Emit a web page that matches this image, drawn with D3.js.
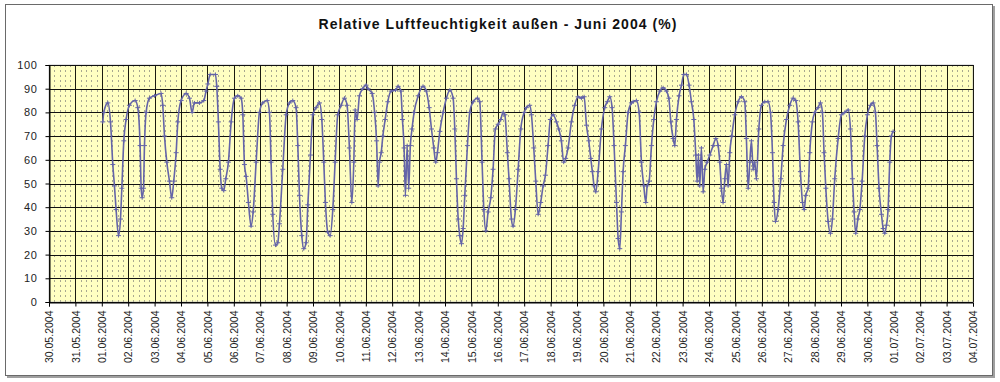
<!DOCTYPE html>
<html>
<head>
<meta charset="utf-8">
<script src="https://cdn.jsdelivr.net/npm/d3@7"></script>
<style>
  html, body { margin: 0; padding: 0; background: #fff; }
  svg { display: block; }
  text { font-family: "Liberation Sans", Arial, sans-serif; }
</style>
</head>
<body>
<svg id="chart" width="1000" height="382"></svg>
<script>
// ---- Data ----
const titleText = "Relative Luftfeuchtigkeit außen - Juni 2004 (%)";
const axisStart = "30.05.2004";
const axisEnd = "04.07.2004";
const seriesStart = "01.06.2004";
const yTicks = [0, 10, 20, 30, 40, 50, 60, 70, 80, 90, 100];
// hours since 01.06.2004 00:00
const hours = [
  0.9, 1.8, 5.5, 7.9, 10, 11.5, 13, 15.2, 17, 18.2, 20, 22.1,
  25.1, 30.3, 32.7, 34.8, 35.8, 36.7, 37.9, 38.8, 40.3, 43.3, 47.9,
  53.9, 55.4, 57, 59.1, 61.5, 63.6, 65.4, 67.6, 69.1, 72.1, 76.7,
  79.7, 82.1, 84.2, 88.8, 92.7, 94.8, 96.4, 98.5, 103.3, 104.5, 106,
  107.6, 109.1, 110.9, 112.7, 115.1, 117.6, 120.6, 123.6, 126.7, 128.2,
  129.7, 131.2, 133.3, 135.7, 137.6, 140.3, 143.3, 146.3, 150.3, 152.4,
  153.9, 155.4, 157.9, 160, 161.5, 164.5, 167.6, 170.6, 173.6, 176.6,
  178.2, 179.7, 181.8, 183.6, 185.7, 187.3, 189.7, 191.8, 194.8, 197.9,
  200, 201.8, 203.3, 205.4, 207.6, 210, 212.1, 214.5, 217.6, 220.6,
  223, 225.1, 227.3, 229.1, 230.3, 232.1, 234.2, 237.2, 240.3,
  242, 245.8, 248, 249.8, 251.2, 252.4, 254, 255.5, 257.6, 260, 263,
  267, 269.4, 271.8, 273.3, 274.8, 276, 277.6, 279, 280.5, 282, 283.9,
  287.6, 292, 295, 297.6, 299.7, 301.8, 303.6, 305.1, 307.3, 310.3,
  313.3, 316.4, 319.4, 320.9, 322.4, 324, 325.4, 327, 328.5, 330, 332.4,
  334.5, 337.6, 341.5, 343.6, 345.7, 347.3, 349.1, 351.2, 353.6, 355.7,
  357.8, 360.3, 362.7, 364.8, 366.4, 368.7, 370.2, 372.4, 373.9, 376,
  378.5, 380.9, 384, 386, 389, 390.6, 392.7, 394.5, 396.7, 399, 401.2,
  403.3, 405.7, 407.8, 410.3, 413.3, 415.4, 417.8, 419.9, 421.7, 423.9,
  426.9, 429.9, 432.9, 436, 438.5, 440.6, 442.7, 444.5, 446, 447.5,
  449.1, 451.2, 454.2, 457.2, 459.6, 461.8, 463.9, 465.7, 467.9, 469.4,
  470.9, 472.4, 473.9, 476, 478.5, 481.5,
  483, 486, 488.5, 490.6, 492.7, 494.5, 495.8, 497.6, 499.7, 501.8,
  504.2, 507.3, 510.3, 513.3, 515.5, 517.3, 519.4, 520.9, 522.4, 524.8,
  527, 529.1, 531.5, 533.9, 536, 538.2, 540, 541.2, 542.4, 543.6, 545.1,
  546.7, 548.2, 550.3, 552.7, 555.8, 558.2, 560.3, 561.8, 563.3, 564.8,
  566.4, 567.9, 569.4, 570.9, 572.7, 575.4, 578.5, 581.5, 584.5, 586,
  587.6, 589.1, 590.6, 592.1, 593.6, 595.1, 597.3, 599.7, 602.7, 605.7,
  607.9, 609.7, 611.2, 612.4, 614.8, 617.3, 619.4, 622.4, 625.4, 628.5,
  630.9, 633, 635.1, 637, 638.5, 640, 642.1, 643.6, 646, 648.2, 651.2,
  653.3, 655.1, 656.6, 658.2, 660.3, 662.4, 664.2, 666.3, 669.4, 672.4,
  675.4, 678.5, 680.6, 682.4, 683.9, 685.4, 687.3, 689.1, 691.2, 693.6,
  696, 698.8, 701.2, 703.3, 704.8, 706.6, 708.8, 710.3, 711.8, 713.3,
  714.8, 716.3, 717.8, 719.4
];
const humidity = [
  76, 80, 84, 76, 58, 49, 39, 28, 35, 48, 68, 77,
  83, 85, 82, 66, 48, 44, 48, 66, 80, 86, 87,
  88, 83, 70, 59, 51, 44, 51, 63, 76, 85, 88,
  86, 80, 84, 84, 85, 89, 92, 96, 96, 91, 76,
  56, 48, 47, 52, 59, 76, 86, 87, 86, 79,
  58, 53, 42, 32, 38, 59, 80, 84, 85, 80,
  59, 37, 24, 25, 33, 56, 79, 84, 85, 82,
  66, 45, 28, 22.5, 25, 41, 62, 79, 82, 84,
  77, 59, 42, 29.5, 28, 39, 59, 79, 83, 86,
  83, 65, 42, 59, 81, 77, 87, 90, 91.5,
  90, 88, 80, 68, 49, 59, 63, 70, 77, 84.5, 89,
  89.4, 91, 89, 77, 65, 45, 66, 48, 66, 73, 80,
  87, 91, 89, 82, 73, 65, 59, 63, 72, 80,
  86, 89.4, 86, 73, 52, 35, 28, 24.6, 31, 45, 66,
  80, 84.5, 86, 84.5, 59, 39, 30, 38, 44, 56,
  73, 75, 77, 80, 79, 63, 52, 35, 32, 39,
  56, 73, 80, 82, 83, 79, 65, 51, 37, 42, 49,
  53.5, 66, 77, 79, 76, 73, 68, 59, 60.6, 65,
  76, 83, 86.6, 86, 86.6, 74.6, 68, 60.6, 55, 49,
  46.5, 55, 73, 82, 84.5, 86.6, 82, 66, 42, 26.8,
  22.5, 38, 55, 66, 80, 84,
  84.5, 85, 80, 59, 49, 42, 49, 51, 66, 77,
  84.5, 89, 90.4, 89, 86, 76, 69, 66, 77, 87,
  91.5, 96, 96, 91.5, 84.5, 77, 62, 51, 62, 49, 65,
  46.5, 56, 59, 62, 66, 69, 66, 59, 48, 42,
  52, 58, 49, 63, 70, 79, 84.5, 86.6, 84.5, 69,
  48, 59, 68, 56, 59, 52, 73, 83, 84.5, 84.5,
  80, 63, 42, 34, 39, 52, 66, 77, 83, 86,
  85, 76, 55, 42, 39, 45, 48, 63, 76, 80, 82,
  84, 80, 63, 48, 34, 29, 35, 52, 69, 79,
  80, 81, 73, 52, 38, 29, 35, 39, 51, 70,
  79, 83, 84, 80, 66, 48, 37, 31, 29, 32.4,
  39, 59, 70, 72
];

// ---- Chart ----
const svg = d3.select("#chart");
const plot = { left: 49, right: 973, top: 65, bottom: 302 };
const parse = d3.timeParse("%d.%m.%Y");
const fmt = d3.timeFormat("%d.%m.%Y");
const t0 = parse(axisStart), t1 = parse(axisEnd), s0 = parse(seriesStart);

const x = d3.scaleTime().domain([t0, t1]).range([plot.left, plot.right]);
const y = d3.scaleLinear().domain([0, 100]).range([plot.bottom, plot.top]);

const data = hours.map((h, i) => ({ t: new Date(s0.getTime() + h * 3600e3), v: humidity[i] }));

// outer frame with shadow
svg.append("rect").attr("x", 7).attr("y", 6).attr("width", 988).attr("height", 372).attr("fill", "#a0a0a0");
svg.append("rect").attr("x", 5.5).attr("y", 4.5).attr("width", 987).attr("height", 371)
  .attr("fill", "#fff").attr("stroke", "#6a6a6a").attr("stroke-width", 1);

// title
svg.append("text").attr("x", 498).attr("y", 29).attr("text-anchor", "middle")
  .attr("font-size", 14).attr("font-weight", "bold").attr("fill", "#111")
  .attr("letter-spacing", 1.05).text(titleText);

// plot background
svg.append("rect").attr("x", plot.left).attr("y", plot.top)
  .attr("width", plot.right - plot.left).attr("height", plot.bottom - plot.top)
  .attr("fill", "#ffffc2").attr("stroke", "#c8c8c8").attr("stroke-width", 1);

// minor dotted vertical grid lines (0.2 day)
const days = d3.timeDay.range(t0, d3.timeDay.offset(t1, 1));
const minor = [];
days.slice(0, -1).forEach(d => {
  for (let k = 1; k < 5; k++) minor.push(new Date(d.getTime() + k * 0.2 * 864e5));
});
svg.append("g").selectAll("line").data(minor).join("line")
  .attr("x1", d => Math.round(x(d)) + 0.5).attr("x2", d => Math.round(x(d)) + 0.5)
  .attr("y1", plot.top).attr("y2", plot.bottom)
  .attr("stroke", "#a8a890").attr("stroke-width", 1).attr("stroke-dasharray", "2,3");

// major grid
svg.append("g").selectAll("line").data(days).join("line")
  .attr("x1", d => Math.round(x(d)) + 0.5).attr("x2", d => Math.round(x(d)) + 0.5)
  .attr("y1", plot.top).attr("y2", plot.bottom)
  .attr("stroke", "#1a1a10").attr("stroke-width", 1);
svg.append("g").selectAll("line").data(yTicks).join("line")
  .attr("x1", plot.left).attr("x2", plot.right)
  .attr("y1", d => Math.round(y(d)) + 0.5).attr("y2", d => Math.round(y(d)) + 0.5)
  .attr("stroke", "#111").attr("stroke-width", 1);

// series
const lineColor = "#6464a8";
svg.append("path").datum(data)
  .attr("fill", "none").attr("stroke", lineColor).attr("stroke-width", 1.6)
  .attr("stroke-linejoin", "round")
  .attr("d", d3.line().curve(d3.curveMonotoneX).x(d => x(d.t)).y(d => y(d.v)));
svg.append("g").selectAll("path").data(data).join("path")
  .attr("transform", d => `translate(${x(d.t)},${y(d.v)})`)
  .attr("d", "M-2.5,0H2.5M0,-2V2")
  .attr("stroke", lineColor).attr("stroke-width", 1);

// axes
const yAxis = d3.axisLeft(y).tickValues(yTicks).tickSize(4).tickPadding(8);
const gy = svg.append("g").attr("transform", `translate(${plot.left + 0.5},0)`).call(yAxis);
gy.select(".domain").attr("stroke", "#000");
gy.selectAll(".tick line").attr("stroke", "#000");
gy.selectAll("text").attr("font-size", 11).attr("fill", "#222")
  .attr("letter-spacing", 0.6).attr("font-family", "Liberation Sans, Arial, sans-serif");

const xAxis = d3.axisBottom(x).tickValues(days).tickFormat(fmt).tickSize(4).tickPadding(6);
const gx = svg.append("g").attr("transform", `translate(0,${plot.bottom + 0.5})`).call(xAxis);
gx.select(".domain").attr("stroke", "#000");
gx.selectAll(".tick line").attr("stroke", "#000");
gx.selectAll("text")
  .attr("font-size", 10.5).attr("fill", "#222").attr("font-family", "Liberation Sans, Arial, sans-serif")
  .attr("text-anchor", "end").attr("dy", "0.35em")
  .attr("transform", "translate(0,8) rotate(-90)").attr("x", 0).attr("y", 0);
</script>
</body>
</html>
